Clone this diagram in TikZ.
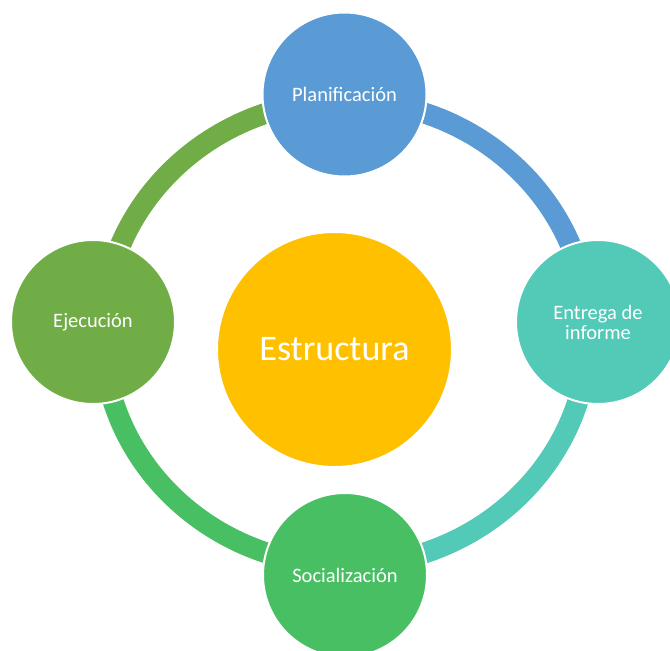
\documentclass[tikz,border=0pt]{standalone}
\usepackage{fontspec}
\setmainfont{Carlito}
\usetikzlibrary{backgrounds}
\definecolor{cblue}{HTML}{5B9BD5}
\definecolor{cteal}{HTML}{53C9B7}
\definecolor{cgreen}{HTML}{49BF64}
\definecolor{colive}{HTML}{70AD47}
\definecolor{cgold}{HTML}{FFC000}
\begin{document}
\begin{tikzpicture}[x=1bp,y=-1bp,
  cyc/.style={circle, draw=white, line width=2bp, minimum size=164bp, inner sep=0pt,
    text=white, align=center, font=\fontsize{20.5bp}{20bp}\selectfont},
  hub/.style={cyc, minimum size=235bp, font=\fontsize{36bp}{40bp}\selectfont},
  ring/.style={line width=21bp}]
\useasboundingbox (0,0) rectangle (670,651);
\clip (0,0) rectangle (670,651);
% ring reference points (ellipse centre (345.5,333), rx 243, ry 232.5)
\coordinate (rT) at (345.5,100.5);
\coordinate (rR) at (588.5,333);
\coordinate (rB) at (345.5,565.5);
\coordinate (rL) at (102.5,333);
% nodes
\node[hub, fill=cgold] (hub) at (334.5,349.5) {Estructura};
\node[cyc, fill=cblue] (plan) at (344.5,94.5) {Planificación};
\node[cyc, fill=cteal] (inf) at (598,322) {Entrega de\\informe};
\node[cyc, fill=cgreen] (soc) at (345,575) {Socialización};
\node[cyc, fill=colive] (eje) at (93,322) {Ejecución};
% ring arcs behind the circles
\begin{scope}[on background layer]
  \draw[ring, cblue]  (rT) arc[start angle=270, end angle=360, x radius=243, y radius=232.5];
  \draw[ring, cteal]  (rR) arc[start angle=0,   end angle=90,  x radius=243, y radius=232.5];
  \draw[ring, cgreen] (rB) arc[start angle=90,  end angle=180, x radius=243, y radius=232.5];
  \draw[ring, colive] (rL) arc[start angle=180, end angle=270, x radius=243, y radius=232.5];
\end{scope}
\end{tikzpicture}
\end{document}
